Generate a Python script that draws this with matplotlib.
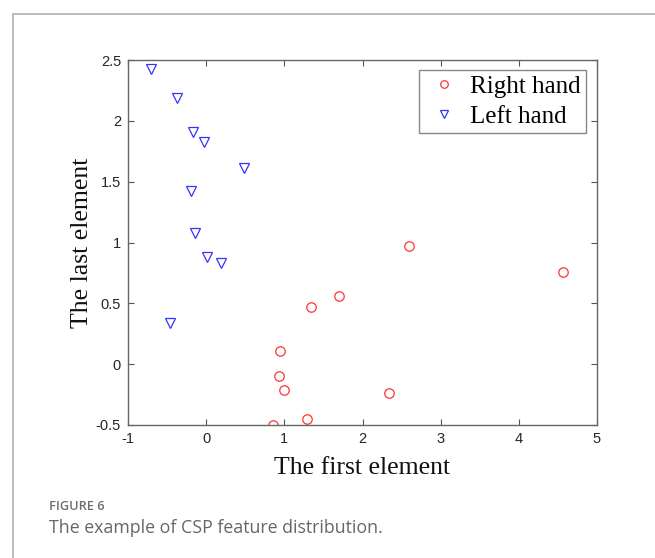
import matplotlib.pyplot as plt
from matplotlib.patches import Rectangle

# CSP features
right_x = [0.95, 0.93, 0.99, 1.29, 0.86, 1.34, 1.70, 2.60, 4.57, 2.34]
right_y = [0.11, -0.10, -0.21, -0.45, -0.50, 0.47, 0.56, 0.97, 0.76, -0.24]
left_x = [-0.70, -0.37, -0.17, -0.03, 0.49, -0.20, -0.14, 0.01, 0.19, -0.46]
left_y = [2.43, 2.19, 1.91, 1.83, 1.61, 1.42, 1.08, 0.88, 0.83, 0.34]

xticks = [-1, 0, 1, 2, 3, 4, 5]
yticks = [-0.5, 0, 0.5, 1, 1.5, 2, 2.5]

fig = plt.figure(figsize=(6.55, 5.58), dpi=100)

# outer page frame (open to the right and bottom)
fig.patches.append(Rectangle((13 / 655, -0.1), 1.2, 1 - 14 / 558 + 0.1,
                             transform=fig.transFigure, fill=False,
                             edgecolor='#b0b0b0', linewidth=1.2))

ax = fig.add_axes([128 / 655, 1 - 425 / 558, 469 / 655, 365 / 558])
ax.plot(right_x, right_y, 'o', linestyle='none', markersize=6.8,
        markerfacecolor='none', markeredgecolor='#ff3333', markeredgewidth=0.9,
        label='Right hand')
ax.plot(left_x, left_y, 'v', linestyle='none', markersize=7.5,
        markerfacecolor='none', markeredgecolor='#3333ff', markeredgewidth=0.9,
        label='Left hand')

ax.set_xlim(-1, 5)
ax.set_ylim(-0.5, 2.5)
ax.set_xticks(xticks)
ax.set_yticks(yticks)
ax.set_xticklabels([str(t) for t in xticks])
ax.set_yticklabels(['-0.5', '0', '0.5', '1', '1.5', '2', '2.5'])
ax.tick_params(direction='in', top=True, right=True, length=4, width=0.8,
               color='#555555', labelsize=10.5, labelcolor='#262626',
               pad=5)
for s in ax.spines.values():
    s.set_color('#666666')
    s.set_linewidth(1.0)
for lab in ax.get_xticklabels() + ax.get_yticklabels():
    lab.set_family('Liberation Sans')

ax.set_xlabel('The first element', family='Liberation Serif', fontsize=18.5,
              color='#111111', labelpad=8)
ax.set_ylabel('The last element', family='Liberation Serif', fontsize=18.5,
              color='#111111', labelpad=2)

leg = ax.legend(loc='upper right', bbox_to_anchor=(586 / 655, 1 - 70 / 558),
                bbox_transform=fig.transFigure, borderaxespad=0,
                prop={'family': 'Liberation Serif', 'size': 18},
                fancybox=False, framealpha=1, edgecolor='#888888',
                handlelength=1.6, handletextpad=0.25, borderpad=0.2,
                labelspacing=0.32, markerscale=0.8)
leg.get_frame().set_linewidth(1.0)

fig.text(49 / 655, 1 - 507 / 558, 'FIGURE 6', family='Open Sans',
         fontsize=9.2, fontweight='semibold', color='#6e6e6e', va='center')
fig.text(49 / 655, 1 - 528 / 558, 'The example of CSP feature distribution.',
         family='Open Sans', fontsize=12.8, color='#666666', va='center')

fig.savefig('out.png', dpi=100)
